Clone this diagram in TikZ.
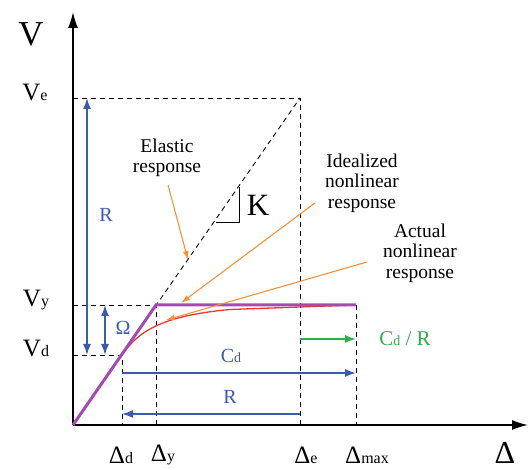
\documentclass[tikz,border=0pt]{standalone}
\usepackage{fontspec}
\setmainfont{Liberation Serif}
\usetikzlibrary{arrows.meta}
\definecolor{cblue}{RGB}{60,90,175}
\definecolor{cpurple}{RGB}{165,75,175}
\definecolor{cred}{RGB}{235,55,45}
\definecolor{corange}{RGB}{245,145,60}
\definecolor{cgreen}{RGB}{45,175,75}
\tikzset{
  axis/.style={line width=1.6pt,-{Latex[length=16pt,width=10pt]}},
  guide/.style={line width=0.9pt,dash pattern=on 5pt off 4pt},
  bluearr/.style={cblue,line width=1.5pt},
  orarr/.style={corange,line width=1.1pt,-{Latex[length=9pt,width=6pt]}},
  lbl/.style={font=\fontsize{25}{28}\selectfont,inner sep=0pt},
  blbl/.style={font=\fontsize{20}{20}\selectfont,inner sep=0pt},
  txt/.style={font=\fontsize{19.5}{20.5}\selectfont,align=center,inner sep=1pt}
}
\newcommand{\sbs}[1]{{\fontsize{16}{16}\selectfont #1}}
\newcommand{\sbsm}[1]{{\fontsize{14}{14}\selectfont #1}}
\begin{document}
\begin{tikzpicture}[x=1pt,y=1pt]
\useasboundingbox (0,0) rectangle (531,470);
% key coordinates
\coordinate (O) at (73,45);
\coordinate (ytip) at (73,458);
\coordinate (xtip) at (528,45);
\coordinate (Ve0) at (73,372);
\coordinate (Vetop) at (300,372);
\coordinate (De) at (300,45);
\coordinate (Vy0) at (73,165);
\coordinate (Vd0) at (73,115);
\coordinate (Y) at (156,165);
\coordinate (D) at (122,115);
\coordinate (Dd) at (122,45);
\coordinate (Dy) at (156,45);
\coordinate (M) at (356,165);
\coordinate (Dm) at (356,45);
% guides
\draw[guide] (O) -- (Vetop);
\draw[guide] (Ve0) -- (Vetop) -- (De);
\draw[guide] (Vy0) -- (Y) -- (Dy);
\draw[guide] (Vd0) -- (D) -- (Dd);
\draw[guide] (M) -- (Dm);
% axes
\draw[axis] (O) -- (ytip);
\draw[axis] (O) -- (xtip);
% curves
\draw[cred,line width=1.3pt] (D) .. controls (138,138) and (160,154) .. (230,160.5) -- (M);
\draw[cpurple,line width=3pt,line join=miter] (O) -- (Y) -- (M);
% K triangle
\coordinate (K1) at (216,247);
\coordinate (K2) at (239,247);
\coordinate (K3) at (239,283);
\draw[line width=1pt] (K1) -- (K2) -- (K3);
\node[lbl,font=\fontsize{31}{31}\selectfont] (K) at (258,265) {K};
% blue arrows
\coordinate (Ra) at (87,115);
\coordinate (Rb) at (87,372);
\draw[bluearr,{Latex[length=11pt,width=8pt]}-{Latex[length=11pt,width=8pt]}] (Ra) -- (Rb);
\node[blbl,cblue] (Rv) at (106,255) {R};
\coordinate (Oa) at (105,115);
\coordinate (Ob) at (105,165);
\draw[bluearr,{Latex[length=11pt,width=8pt]}-{Latex[length=11pt,width=8pt]}] (Oa) -- (Ob);
\node[blbl,cblue] (Om) at (123,142) {Ω};
\coordinate (Ca) at (122,97);
\coordinate (Cb) at (356,97);
\draw[bluearr,-{Latex[length=11pt,width=8pt]}] (Ca) -- (Cb);
\node[blbl,cblue] (Cd) at (231,114) {C\sbsm{d}};
\coordinate (Rh1) at (300,56);
\coordinate (Rh2) at (122,56);
\draw[bluearr,-{Latex[length=11pt,width=8pt]}] (Rh1) -- (Rh2);
\node[blbl,cblue] (Rh) at (230,73) {R};
% green arrow
\coordinate (Ga) at (300,131);
\coordinate (Gb) at (356,131);
\draw[cgreen,line width=1.5pt,-{Latex[length=11pt,width=8pt]}] (Ga) -- (Gb);
\node[blbl,cgreen,font=\fontsize{21}{21}\selectfont] (CdR) at (405,131) {C\sbsm{d} / R};
% annotation texts
\node[txt] (el) at (167,312) {Elastic\\response};
\node[txt] (id) at (362,287) {Idealized\\nonlinear\\response};
\node[txt] (ac) at (420,217) {Actual\\nonlinear\\response};
\coordinate (elt) at (188,210);
\coordinate (idt) at (181,167);
\coordinate (act) at (166,150);
\draw[orarr] (168,285) -- (elt);
\draw[orarr] (315,267) -- (idt);
\draw[orarr] (367,208) -- (act);
% axis labels
\node[lbl,font=\fontsize{35}{35}\selectfont] (V) at (31,436) {V};
\node[lbl] (Ve) at (35,377) {V\sbs{e}};
\node[lbl] (Vy) at (36,170) {V\sbs{y}};
\node[lbl] (Vd) at (36,121) {V\sbs{d}};
\node[lbl] (Ddl) at (121,15) {Δ\sbs{d}};
\node[lbl] (Dyl) at (163,15) {Δ\sbs{y}};
\node[lbl] (Del) at (306,15) {Δ\sbs{e}};
\node[lbl] (Dmax) at (367,15) {Δ\sbs{max}};
\node[lbl,font=\fontsize{32}{32}\selectfont,anchor=base] (Dbig) at (505,6) {Δ};
\end{tikzpicture}
\end{document}
